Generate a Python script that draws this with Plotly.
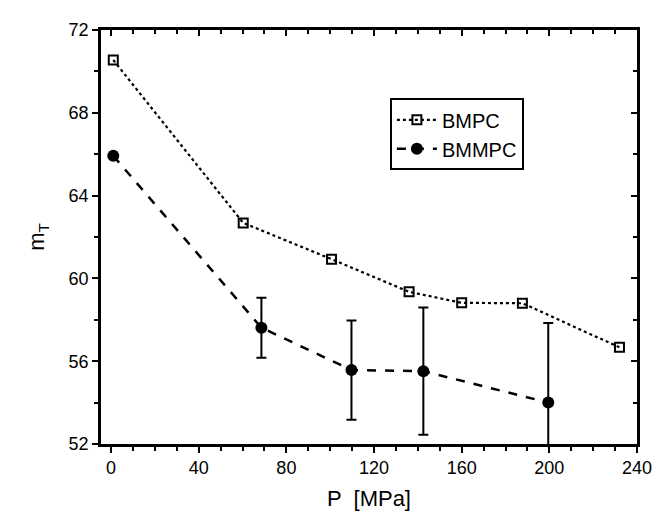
import plotly.graph_objects as go

# Data
bmpc_p = [1, 60.3, 100.6, 136, 160, 187.7, 232]
bmpc_m = [70.55, 62.68, 60.93, 59.35, 58.82, 58.8, 56.67]

bmmpc_p = [1, 68.6, 109.7, 142.5, 199.5]
bmmpc_m = [65.92, 57.62, 55.57, 55.52, 54.0]
bmmpc_err = [0, 1.45, 2.4, 3.07, 3.85]

x_ticks = [0, 40, 80, 120, 160, 200, 240]
y_ticks = [52, 56, 60, 64, 68, 72]

FONT = "Liberation Sans, Arial, sans-serif"

fig = go.Figure()
fig.add_trace(go.Scatter(
    x=bmpc_p, y=bmpc_m, name="BMPC", mode="lines+markers",
    line=dict(color="black", width=2.2, dash="dot"),
    marker=dict(symbol="square-open", size=9, color="black", line=dict(width=2, color="black")),
))
fig.add_trace(go.Scatter(
    x=bmmpc_p, y=bmmpc_m, name="BMMPC", mode="lines+markers",
    line=dict(color="black", width=2.5, dash="dash"),
    marker=dict(symbol="circle", size=12, color="black"),
    error_y=dict(type="data", array=bmmpc_err, visible=True, color="black", thickness=2, width=5),
))

xr = [-4.6, 240]
yr = [52, 72]
axis_common = dict(showline=True, linecolor="black", linewidth=2.5, showgrid=False, zeroline=False,
                   tickcolor="black", tickwidth=2, ticklen=6,
                   tickfont=dict(family=FONT, size=18, color="black"))

fig.update_layout(
    width=664, height=512,
    margin=dict(l=93, r=35, t=13, b=72),
    paper_bgcolor="white", plot_bgcolor="white",
    font=dict(family=FONT, color="black"),
    xaxis=dict(range=xr, tickvals=x_ticks, ticks="outside",
               minor=dict(dtick=10, tick0=0, ticks="outside", ticklen=4, tickcolor="black", tickwidth=2),
               title=dict(text="P  [MPa]", font=dict(family=FONT, size=22, color="black"), standoff=14),
               **axis_common),
    yaxis=dict(range=yr, tickvals=y_ticks, ticks="outside",
               minor=dict(dtick=2, tick0=52, ticks="outside", ticklen=4, tickcolor="black", tickwidth=2),
               title=dict(text="m<sub>T</sub>", font=dict(family=FONT, size=22, color="black"), standoff=18),
               **axis_common),
    xaxis2=dict(range=xr, overlaying="x", side="top", tickvals=x_ticks, ticks="inside",
                showticklabels=False, showline=True, linecolor="black", linewidth=2.5,
                showgrid=False, zeroline=False, tickcolor="black", tickwidth=2, ticklen=6,
                minor=dict(dtick=10, tick0=0, ticks="inside", ticklen=4, tickcolor="black", tickwidth=2)),
    yaxis2=dict(range=yr, overlaying="y", side="right", tickvals=y_ticks, ticks="inside",
                showticklabels=False, showline=True, linecolor="black", linewidth=2.5,
                showgrid=False, zeroline=False, tickcolor="black", tickwidth=2, ticklen=6,
                minor=dict(dtick=2, tick0=52, ticks="inside", ticklen=4, tickcolor="black", tickwidth=2)),
    legend=dict(x=0.539, y=0.835, xanchor="left", yanchor="top",
                bordercolor="black", borderwidth=2, bgcolor="white",
                font=dict(family=FONT, size=20, color="black"),
                tracegroupgap=0, itemwidth=40),
    showlegend=True,
)
# invisible trace to activate the mirror axes
fig.add_trace(go.Scatter(x=[None], y=[None], xaxis="x2", yaxis="y2", showlegend=False, hoverinfo="skip"))

fig.write_html("out.html")
